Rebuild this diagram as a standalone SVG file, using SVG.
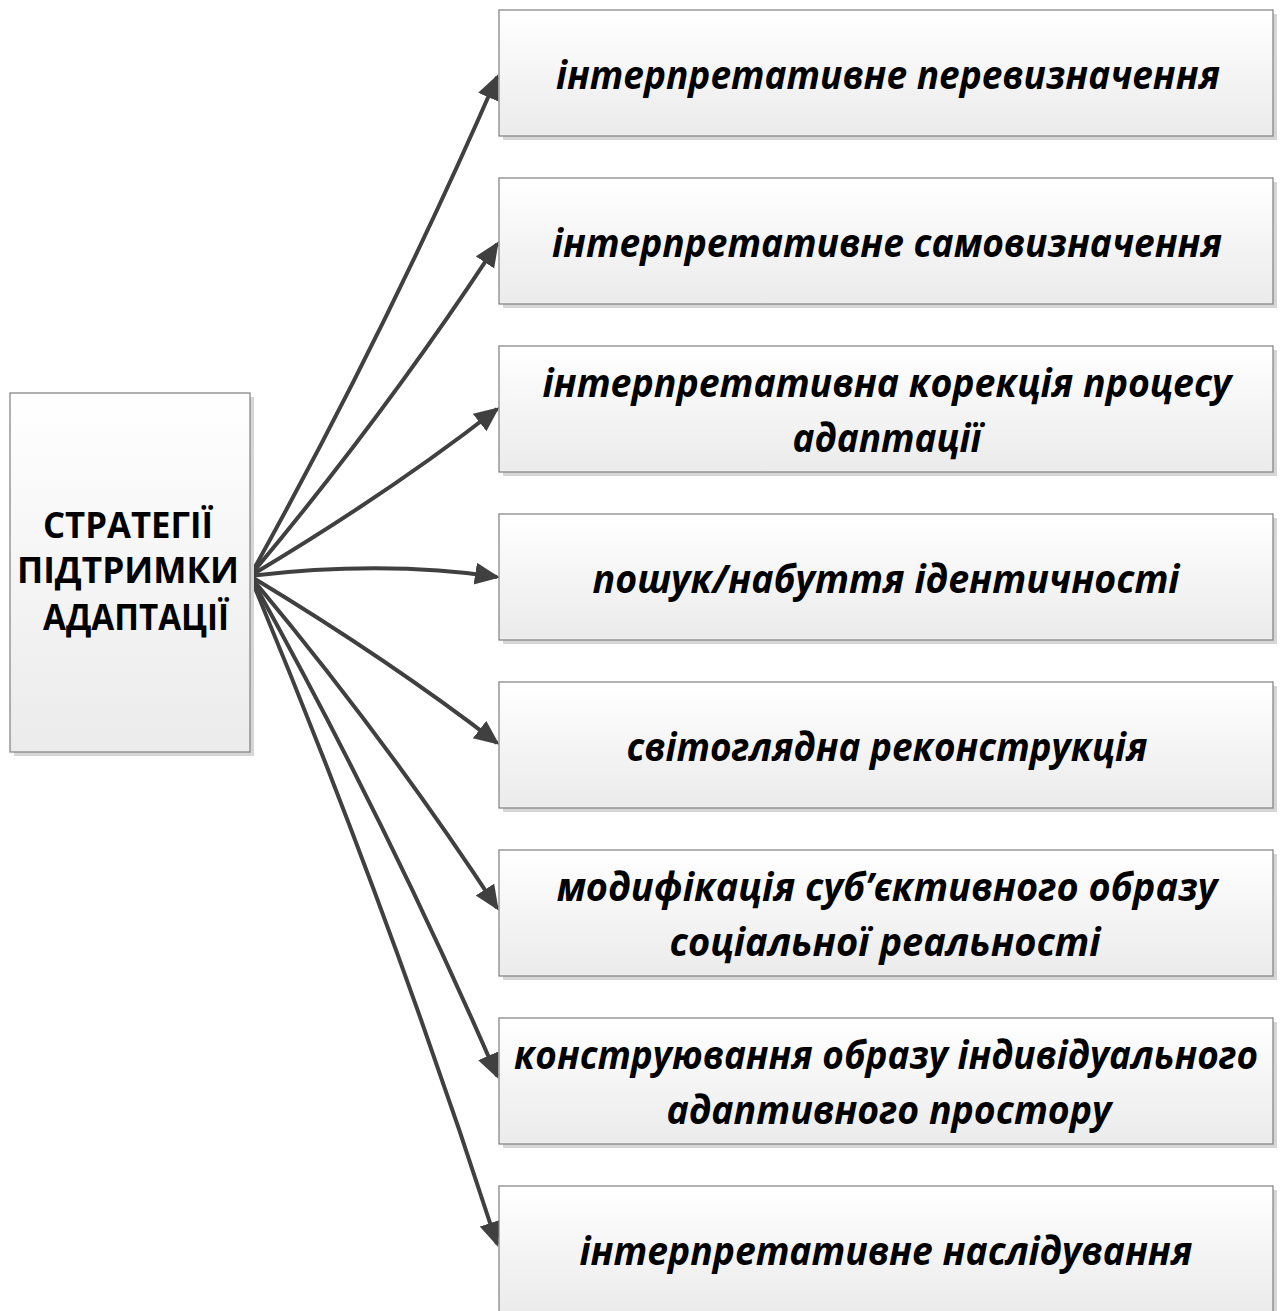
<svg xmlns="http://www.w3.org/2000/svg" width="1280" height="1311" viewBox="0 0 1280 1311">
<defs>
<linearGradient id="g" x1="0" y1="0" x2="0" y2="1">
<stop offset="0" stop-color="#ffffff"/>
<stop offset="1" stop-color="#ebebeb"/>
</linearGradient>
<marker id="arr" markerUnits="userSpaceOnUse" markerWidth="28" markerHeight="24" refX="22" refY="11" orient="auto" viewBox="0 0 28 24">
<path d="M0,0 L25,11 L0,22 z" fill="#404040"/>
</marker>
<style>
.sh{fill:#d6d6d6;}
.bx{fill:url(#g);stroke:#7f7f7f;stroke-width:1.2;}
.t{font-family:"Open Sans","Noto Sans","DejaVu Sans",sans-serif;font-weight:bold;font-style:italic;font-size:39px;fill:#000;text-anchor:middle;}
.tl{font-family:"Open Sans","Noto Sans","DejaVu Sans",sans-serif;font-weight:bold;font-size:35px;fill:#000;text-anchor:middle;}
.c{fill:none;stroke:#404040;stroke-width:4;marker-end:url(#arr);}
</style>
</defs>
<rect width="1280" height="1311" fill="#ffffff"/>

<g id="connectors">
<path class="c" d="M250,576 C339.6,415 424.3,244 497,77"/>
<path class="c" d="M250,576 C339.6,469 424.3,355 497,244"/>
<path class="c" d="M250,576 C339.6,522.6 424.3,465.8 497,409"/>
<path class="c" d="M250,576 C330,566 420,565 497,577"/>
<path class="c" d="M250,576 C339.6,630 424.3,687 497,743"/>
<path class="c" d="M250,576 C339.6,683 424.3,797 497,908"/>
<path class="c" d="M250,576 C339.6,737 424.3,908 497,1076"/>
<path class="c" d="M250,576 C339.6,791 424.3,1019 497,1244"/>
</g>

<g id="left">
<rect class="sh" x="14" y="397" width="240" height="359"/>
<rect class="bx" x="10" y="393" width="240" height="359"/>
<text class="tl" x="128" y="538" textLength="170" lengthAdjust="spacingAndGlyphs">СТРАТЕГІЇ</text>
<text class="tl" x="128" y="583" textLength="222" lengthAdjust="spacingAndGlyphs">ПІДТРИМКИ</text>
<text class="tl" x="136" y="630" textLength="186" lengthAdjust="spacingAndGlyphs">АДАПТАЦІЇ</text>
</g>

<g id="n1">
<rect class="sh" x="503" y="14" width="774" height="126"/>
<rect class="bx" x="499" y="10" width="774" height="126"/>
<text class="t" x="888" y="89" textLength="664" lengthAdjust="spacingAndGlyphs">інтерпретативне перевизначення</text>
</g>
<g id="n2">
<rect class="sh" x="503" y="182" width="774" height="126"/>
<rect class="bx" x="499" y="178" width="774" height="126"/>
<text class="t" x="887" y="257" textLength="670" lengthAdjust="spacingAndGlyphs">інтерпретативне самовизначення</text>
</g>
<g id="n3">
<rect class="sh" x="503" y="350" width="774" height="126"/>
<rect class="bx" x="499" y="346" width="774" height="126"/>
<text class="t" x="887" y="397" textLength="689" lengthAdjust="spacingAndGlyphs">інтерпретативна корекція процесу</text>
<text class="t" x="887" y="452" textLength="189" lengthAdjust="spacingAndGlyphs">адаптації</text>
</g>
<g id="n4">
<rect class="sh" x="503" y="518" width="774" height="126"/>
<rect class="bx" x="499" y="514" width="774" height="126"/>
<text class="t" x="886" y="593" textLength="587" lengthAdjust="spacingAndGlyphs">пошук/набуття ідентичності</text>
</g>
<g id="n5">
<rect class="sh" x="503" y="686" width="774" height="126"/>
<rect class="bx" x="499" y="682" width="774" height="126"/>
<text class="t" x="887" y="761" textLength="521" lengthAdjust="spacingAndGlyphs">світоглядна реконструкція</text>
</g>
<g id="n6">
<rect class="sh" x="503" y="854" width="774" height="126"/>
<rect class="bx" x="499" y="850" width="774" height="126"/>
<text class="t" x="887" y="901" textLength="661" lengthAdjust="spacingAndGlyphs">модифікація суб’єктивного образу</text>
<text class="t" x="885" y="956" textLength="431" lengthAdjust="spacingAndGlyphs">соціальної реальності</text>
</g>
<g id="n7">
<rect class="sh" x="503" y="1022" width="774" height="126"/>
<rect class="bx" x="499" y="1018" width="774" height="126"/>
<text class="t" x="886" y="1069" textLength="744" lengthAdjust="spacingAndGlyphs">конструювання образу індивідуального</text>
<text class="t" x="889" y="1124" textLength="445" lengthAdjust="spacingAndGlyphs">адаптивного простору</text>
</g>
<g id="n8">
<rect class="sh" x="503" y="1190" width="774" height="126"/>
<rect class="bx" x="499" y="1186" width="774" height="126"/>
<text class="t" x="886" y="1265" textLength="613" lengthAdjust="spacingAndGlyphs">інтерпретативне наслідування</text>
</g>
</svg>
